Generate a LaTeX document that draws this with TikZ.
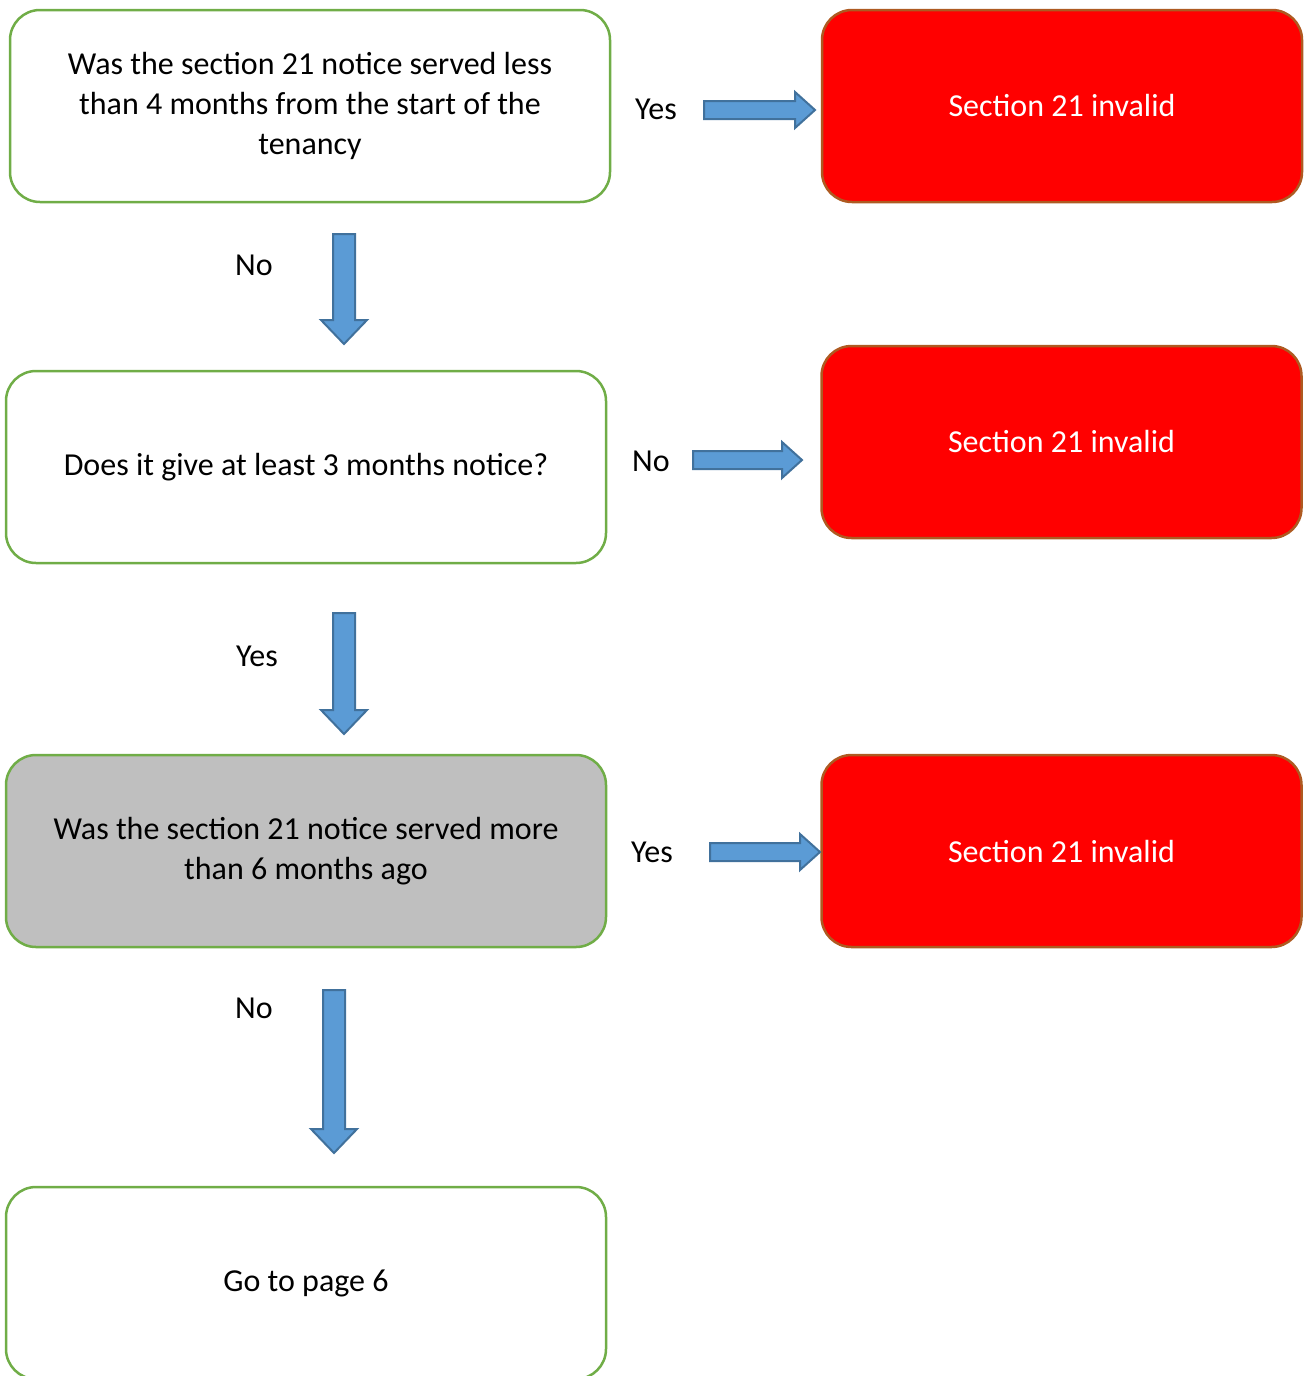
\documentclass[tikz,border=0pt]{standalone}
\usepackage{fontspec}
\setmainfont{Carlito}
\usetikzlibrary{calc}
\definecolor{boxgreen}{RGB}{112,173,71}
\definecolor{boxgray}{RGB}{191,191,191}
\definecolor{invalidred}{RGB}{255,0,0}
\definecolor{invalidedge}{RGB}{174,90,33}
\definecolor{arrowblue}{RGB}{91,155,213}
\definecolor{arrowedge}{RGB}{65,113,156}
\tikzset{
  question/.style={draw=boxgreen, line width=2.5pt, rounded corners=30pt,
    minimum width=600pt, minimum height=192pt, align=center,
    font=\fontsize{32}{40}\selectfont},
  invalid/.style={question, draw=invalidedge, fill=invalidred, text=white,
    minimum width=480pt},
  answer/.style={font=\fontsize{32}{40}\selectfont},
  barrow/.style={fill=arrowblue, draw=arrowedge, line width=2pt, line join=miter},
  harrow/.style={barrow, to path={let \p1=(\tikztostart), \p2=(\tikztotarget) in
    (\x1,\y1+9pt) -- (\x2-20pt,\y1+9pt) -- (\x2-20pt,\y1+18pt) -- (\x2,\y1)
    -- (\x2-20pt,\y1-18pt) -- (\x2-20pt,\y1-9pt) -- (\x1,\y1-9pt) -- cycle}},
  varrow/.style={barrow, to path={let \p1=(\tikztostart), \p2=(\tikztotarget) in
    (\x1-11pt,\y1) -- (\x1-11pt,\y2+24pt) -- (\x1-23pt,\y2+24pt) -- (\x1,\y2)
    -- (\x1+23pt,\y2+24pt) -- (\x1+11pt,\y2+24pt) -- (\x1+11pt,\y1) -- cycle}}
}
\begin{document}
\begin{tikzpicture}[x=1pt,y=-1pt]
  \useasboundingbox (0,0) rectangle (1304,1376);
  % question boxes
  \node[question] (served) at (310,106)
    {Was the section 21 notice served less\\than 4 months from the start of the\\tenancy};
  \node[question] (notice) at (306,467) {Does it give at least 3 months notice?};
  \node[question, fill=boxgray] (ago) at (306,851)
    {Was the section 21 notice served more\\than 6 months ago};
  \node[question] (page) at (306,1283) {Go to page 6};
  % outcome boxes
  \node[invalid] (inv1) at (1062,106) {Section 21 invalid};
  \node[invalid] (inv2) at (1061.5,442) {Section 21 invalid};
  \node[invalid] (inv3) at (1061.5,851) {Section 21 invalid};
  % arrow ends
  \coordinate (r1s) at (704,110);  \coordinate (r1e) at (815,110);
  \coordinate (r2s) at (693,460);  \coordinate (r2e) at (802,460);
  \coordinate (r3s) at (710,852);  \coordinate (r3e) at (820,852);
  \coordinate (d1s) at (344,234);  \coordinate (d1e) at (344,344);
  \coordinate (d2s) at (344,613);  \coordinate (d2e) at (344,734);
  \coordinate (d3s) at (334,990);  \coordinate (d3e) at (334,1153);
  \filldraw[harrow] (r1s) to (r1e);
  \filldraw[harrow] (r2s) to (r2e);
  \filldraw[harrow] (r3s) to (r3e);
  \filldraw[varrow] (d1s) to (d1e);
  \filldraw[varrow] (d2s) to (d2e);
  \filldraw[varrow] (d3s) to (d3e);
  % answers
  \node[answer] (yes1) at (656,109) {Yes};
  \node[answer] (no1) at (254,265) {No};
  \node[answer] (no2) at (651,461) {No};
  \node[answer] (yes2) at (257,656) {Yes};
  \node[answer] (yes3) at (652,852) {Yes};
  \node[answer] (no3) at (254,1008) {No};
\end{tikzpicture}
\end{document}
